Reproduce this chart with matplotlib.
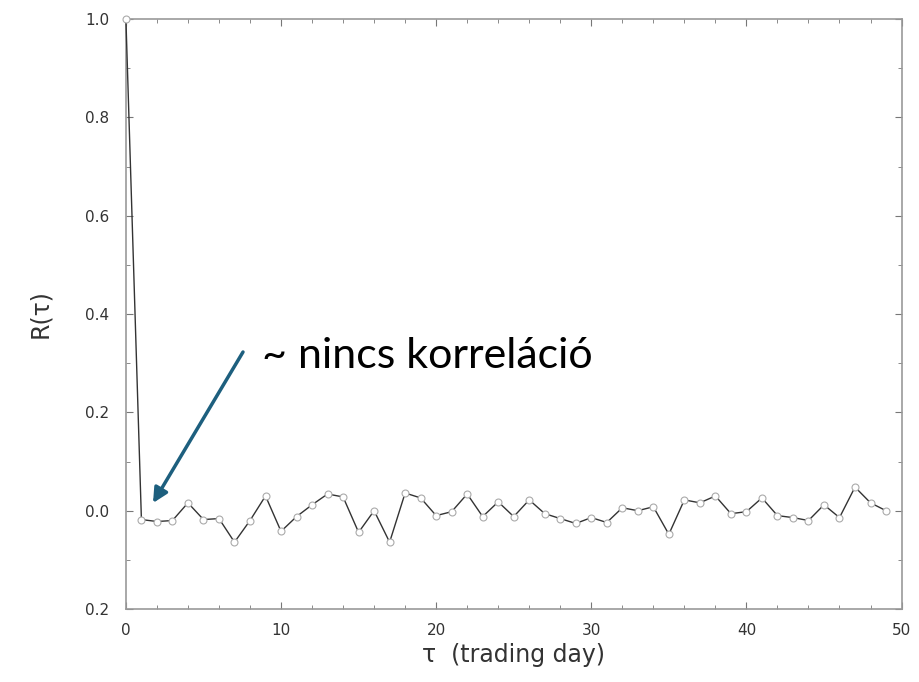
import matplotlib
matplotlib.use('Agg')
import matplotlib.pyplot as plt
from matplotlib.ticker import MultipleLocator, FixedLocator, FixedFormatter

# autocorrelation of daily returns, lag 0..49
lag = list(range(50))
r_tau = [1.0, -0.018, -0.022, -0.02, 0.016, -0.018, -0.016, -0.064, -0.02, 0.03,
         -0.042, -0.012, 0.012, 0.034, 0.028, -0.044, 0.0, -0.064, 0.036, 0.026,
         -0.01, -0.002, 0.034, -0.012, 0.018, -0.012, 0.022, -0.006, -0.016, -0.026,
         -0.014, -0.024, 0.006, 0.0, 0.008, -0.048, 0.022, 0.016, 0.03, -0.006,
         -0.002, 0.026, -0.01, -0.014, -0.02, 0.012, -0.014, 0.048, 0.016, 0.0]

ytick_vals = [-0.2, 0.0, 0.2, 0.4, 0.6, 0.8, 1.0]
ytick_text = ['0.2', '0.0', '0.2', '0.4', '0.6', '0.8', '1.0']

fig = plt.figure(figsize=(9.19, 6.82), dpi=100)
ax = fig.add_axes([0.137, 0.107, 0.844, 0.865])

ax.plot(lag, r_tau, color='#333333', lw=1.0, marker='o', ms=5,
        mfc='white', mec='#aaaaaa', mew=0.8, zorder=3, clip_on=False)

ax.set_xlim(0, 50)
ax.set_ylim(-0.2, 1.0)
ax.xaxis.set_major_locator(MultipleLocator(10))
ax.xaxis.set_minor_locator(MultipleLocator(2))
ax.yaxis.set_major_locator(FixedLocator(ytick_vals))
ax.yaxis.set_major_formatter(FixedFormatter(ytick_text))
ax.yaxis.set_minor_locator(MultipleLocator(0.1))

for s in ax.spines.values():
    s.set_color('#999999')
    s.set_linewidth(1.2)
ax.tick_params(which='both', direction='in', top=True, right=True,
               color='#777777', labelcolor='#333333', labelsize=11)
ax.tick_params(axis='x', pad=10)
ax.tick_params(axis='y', pad=12)
ax.tick_params(which='major', length=5)
ax.tick_params(which='minor', length=3)

ax.set_xlabel('τ  (trading day)', fontsize=17, color='#333333', labelpad=4)
ax.set_ylabel('R(τ)', fontsize=17, color='#333333', labelpad=24)

# annotation
ax.annotate('', xy=(153, 682 - 503), xytext=(243, 682 - 352),
            xycoords='figure pixels', textcoords='figure pixels',
            arrowprops=dict(arrowstyle='-|>', color='#1d5f7e', lw=2.5,
                            mutation_scale=22, shrinkA=0, shrinkB=0))
fig.text(262 / 919, 1 - 368 / 682, '~ nincs korreláció', fontsize=31,
         family=['Lato', 'DejaVu Sans'], color='black', va='baseline', ha='left')

fig.savefig('out.png', dpi=100)
